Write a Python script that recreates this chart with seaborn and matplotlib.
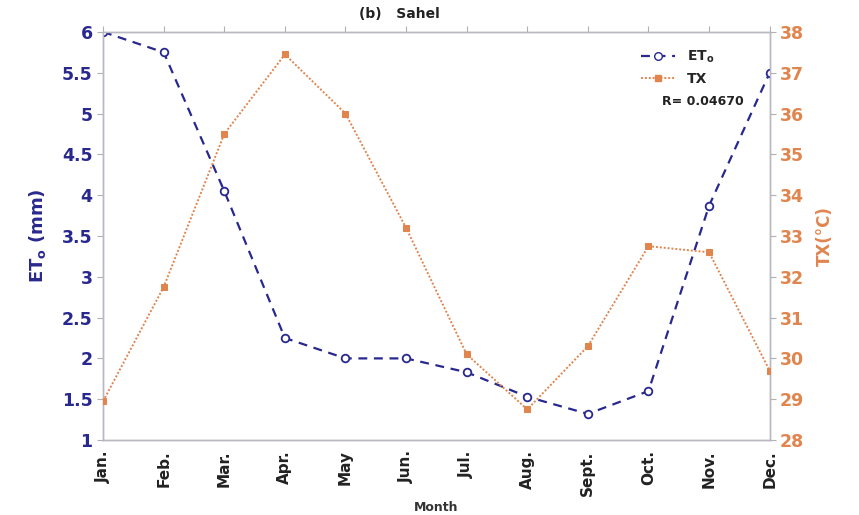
import matplotlib
matplotlib.use("Agg")
import matplotlib.pyplot as plt
import seaborn as sns
import pandas as pd
from matplotlib.lines import Line2D

months = ["Jan.", "Feb.", "Mar.", "Apr.", "May", "Jun.", "Jul.", "Aug.", "Sept.", "Oct.", "Nov.", "Dec."]
et0 = [6.0, 5.75, 4.05, 2.25, 2.0, 2.0, 1.83, 1.53, 1.32, 1.6, 3.87, 5.5]
tx = [28.95, 31.75, 35.5, 37.45, 36.0, 33.2, 30.1, 28.75, 30.3, 32.75, 32.6, 29.7]
left_ticks = [1, 1.5, 2, 2.5, 3, 3.5, 4, 4.5, 5, 5.5, 6]
right_ticks = list(range(28, 39))

blue = "#28288e"
orange = "#e0854e"

sns.set_style("white")
plt.rcParams["font.family"] = ["DejaVu Sans"]

df = pd.DataFrame({"x": range(len(months)), "et0": et0, "tx": tx})

fig = plt.figure(figsize=(8.59, 5.15), dpi=100)
ax = fig.add_axes([0.12, 0.1456, 0.776, 0.7924])
ax2 = ax.twinx()

sns.lineplot(data=df, x="x", y="et0", ax=ax, color=blue, linestyle=(0, (4, 3)), lw=1.6,
             marker="o", markersize=5.5, markerfacecolor="white", markeredgecolor=blue,
             markeredgewidth=1.3, zorder=3)
sns.lineplot(data=df, x="x", y="tx", ax=ax2, color=orange, linestyle=(0, (1, 1)), lw=1.4,
             marker="s", markersize=5, markerfacecolor=orange, markeredgecolor=orange, zorder=3)

ax.set_xlim(0, 11)
ax.set_ylim(1, 6)
ax2.set_ylim(28, 38)
ax.set_xticks(range(len(months)))
ax.set_xticklabels(months, rotation=90, fontweight="bold", fontsize=11, color="#222222")
ax.set_yticks(left_ticks)
ax.set_yticklabels([f"{t:g}" for t in left_ticks], fontweight="bold", fontsize=12.5, color=blue)
ax2.set_yticks(right_ticks)
ax2.set_yticklabels([str(t) for t in right_ticks], fontweight="bold", fontsize=12.5, color=orange)

for a in (ax, ax2):
    for s in a.spines.values():
        s.set_color("#b8b8c0")
        s.set_linewidth(1.0)
ax.tick_params(axis="both", which="both", length=4, color="#b0b0b0", direction="out")
ax.tick_params(axis="x", top=True)
ax2.tick_params(axis="y", length=4, color="#b0b0b0")

ax.set_xlabel("Month", fontweight="bold", fontsize=9, color="#333333", labelpad=4)
ax.set_ylabel(r"ET$_\mathregular{o}$ (mm)", fontweight="bold", fontsize=13, color=blue, labelpad=10)
ax2.set_ylabel("TX(°C)", fontweight="bold", fontsize=12, color=orange, rotation=90, labelpad=8)

fig.text(0.465, 0.972, "(b)   Sahel", fontweight="bold", fontsize=10, color="#222222",
         ha="center", va="center")

handles = [
    Line2D([], [], color=blue, linestyle=(0, (4, 3)), lw=1.6, marker="o", markersize=5.5,
           markerfacecolor="white", markeredgecolor=blue),
    Line2D([], [], color=orange, linestyle=(0, (1, 1)), lw=1.4, marker="s", markersize=5,
           markerfacecolor=orange, markeredgecolor=orange),
]
leg = ax.legend(handles, [r"ET$_\mathregular{o}$", "TX"], loc="upper right",
                bbox_to_anchor=(0.935, 0.99), frameon=False,
                prop={"weight": "bold", "size": 10}, handlelength=2.5)
ax.text(0.9, 0.83, "R= 0.04670", transform=ax.transAxes, fontsize=9, fontweight="bold",
        ha="center", va="center", color="#222222")

fig.savefig("out.png", dpi=100)
